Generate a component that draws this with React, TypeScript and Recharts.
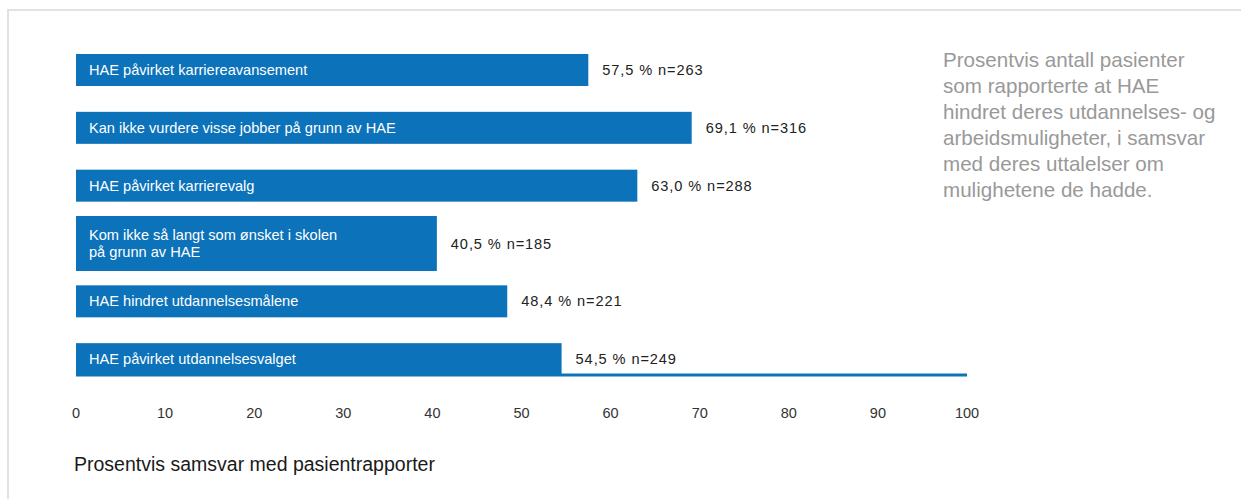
import React from 'react';
import { BarChart, Bar, XAxis, YAxis } from 'recharts';

const categories = [
  'HAE påvirket karriereavansement',
  'Kan ikke vurdere visse jobber på grunn av HAE',
  'HAE påvirket karrierevalg',
  'Kom ikke så langt som ønsket i skolen\npå grunn av HAE',
  'HAE hindret utdannelsesmålene',
  'HAE påvirket utdannelsesvalget',
];
const percents = [57.5, 69.1, 63.0, 40.5, 48.4, 54.5];
const counts = [263, 316, 288, 185, 221, 249];
const xTicks = [0, 10, 20, 30, 40, 50, 60, 70, 80, 90, 100];

const sideNote = [
  'Prosentvis antall pasienter',
  'som rapporterte at HAE',
  'hindret deres utdannelses- og',
  'arbeidsmuligheter, i samsvar',
  'med deres uttalelser om',
  'mulighetene de hadde.',
];
const axisTitle = 'Prosentvis samsvar med pasientrapporter';

const BLUE = '#0c72ba';
const FONT = '"Liberation Sans", Arial, Helvetica, sans-serif';

const chartData = categories.map((name, i) => ({
  name,
  value: percents[i],
  n: counts[i],
}));

const fmt = (v: number) => v.toFixed(1).replace('.', ',');

// bars hang low in their band so the last one sits on the axis line;
// two-line labels get a taller bar around the same centre
const BarShape = (props: any) => {
  const { x, y, width, height, payload } = props;
  const lines: string[] = payload.name.split('\n');
  const h = lines.length > 1 ? 55 : 32;
  const mid = y + height - 16;
  const top = mid - h / 2;
  return (
    <g>
      <rect x={x} y={top} width={width} height={h} fill={BLUE} />
      <text
        x={x + 13}
        y={mid - ((lines.length - 1) * 17) / 2}
        fill="#fff"
        fontSize={14.6}
        fontFamily={FONT}
        dominantBaseline="central"
      >
        {lines.map((l, i) => (
          <tspan key={i} x={x + 13} dy={i === 0 ? 0 : 17}>
            {l}
          </tspan>
        ))}
      </text>
      <text
        x={x + width + 14}
        y={mid}
        fill="#222"
        fontSize={14.6}
        letterSpacing={0.9}
        fontFamily={FONT}
        dominantBaseline="central"
      >
        {`${fmt(payload.value)} % n=${payload.n}`}
      </text>
    </g>
  );
};

export default function App() {
  return (
    <div
      style={{
        position: 'absolute',
        left: 0,
        top: 0,
        width: 1241,
        height: 499,
        overflow: 'hidden',
        background: '#fff',
        fontFamily: FONT,
      }}
    >
      <div
        style={{
          position: 'absolute',
          left: 7,
          top: 9,
          width: 1400,
          height: 700,
          borderTop: '2px solid #e2e2e2',
          borderLeft: '2px solid #e2e2e2',
        }}
      />
      <div style={{ position: 'absolute', left: 0, top: 0 }}>
        <BarChart
          width={1000}
          height={425}
          data={chartData}
          layout="vertical"
          barCategoryGap={0}
          margin={{ top: 28, right: 33, bottom: 0, left: 76 }}
        >
          <XAxis
            type="number"
            domain={[0, 100]}
            ticks={xTicks}
            interval={0}
            height={50}
            axisLine={{ stroke: BLUE, strokeWidth: 3 }}
            tickLine={false}
            tickMargin={27}
            tick={{ fill: '#333', fontSize: 14.5, fontFamily: FONT }}
          />
          <YAxis type="category" dataKey="name" hide />
          <Bar dataKey="value" shape={BarShape} isAnimationActive={false} />
        </BarChart>
      </div>
      <div
        style={{
          position: 'absolute',
          left: 943,
          top: 47,
          fontSize: 20.6,
          lineHeight: '26px',
          color: '#999',
          whiteSpace: 'nowrap',
        }}
      >
        {sideNote.map((l, i) => (
          <div key={i}>{l}</div>
        ))}
      </div>
      <div
        style={{
          position: 'absolute',
          left: 74,
          top: 452,
          fontSize: 19.5,
          lineHeight: '24px',
          color: '#1a1a1a',
          whiteSpace: 'nowrap',
        }}
      >
        {axisTitle}
      </div>
    </div>
  );
}
